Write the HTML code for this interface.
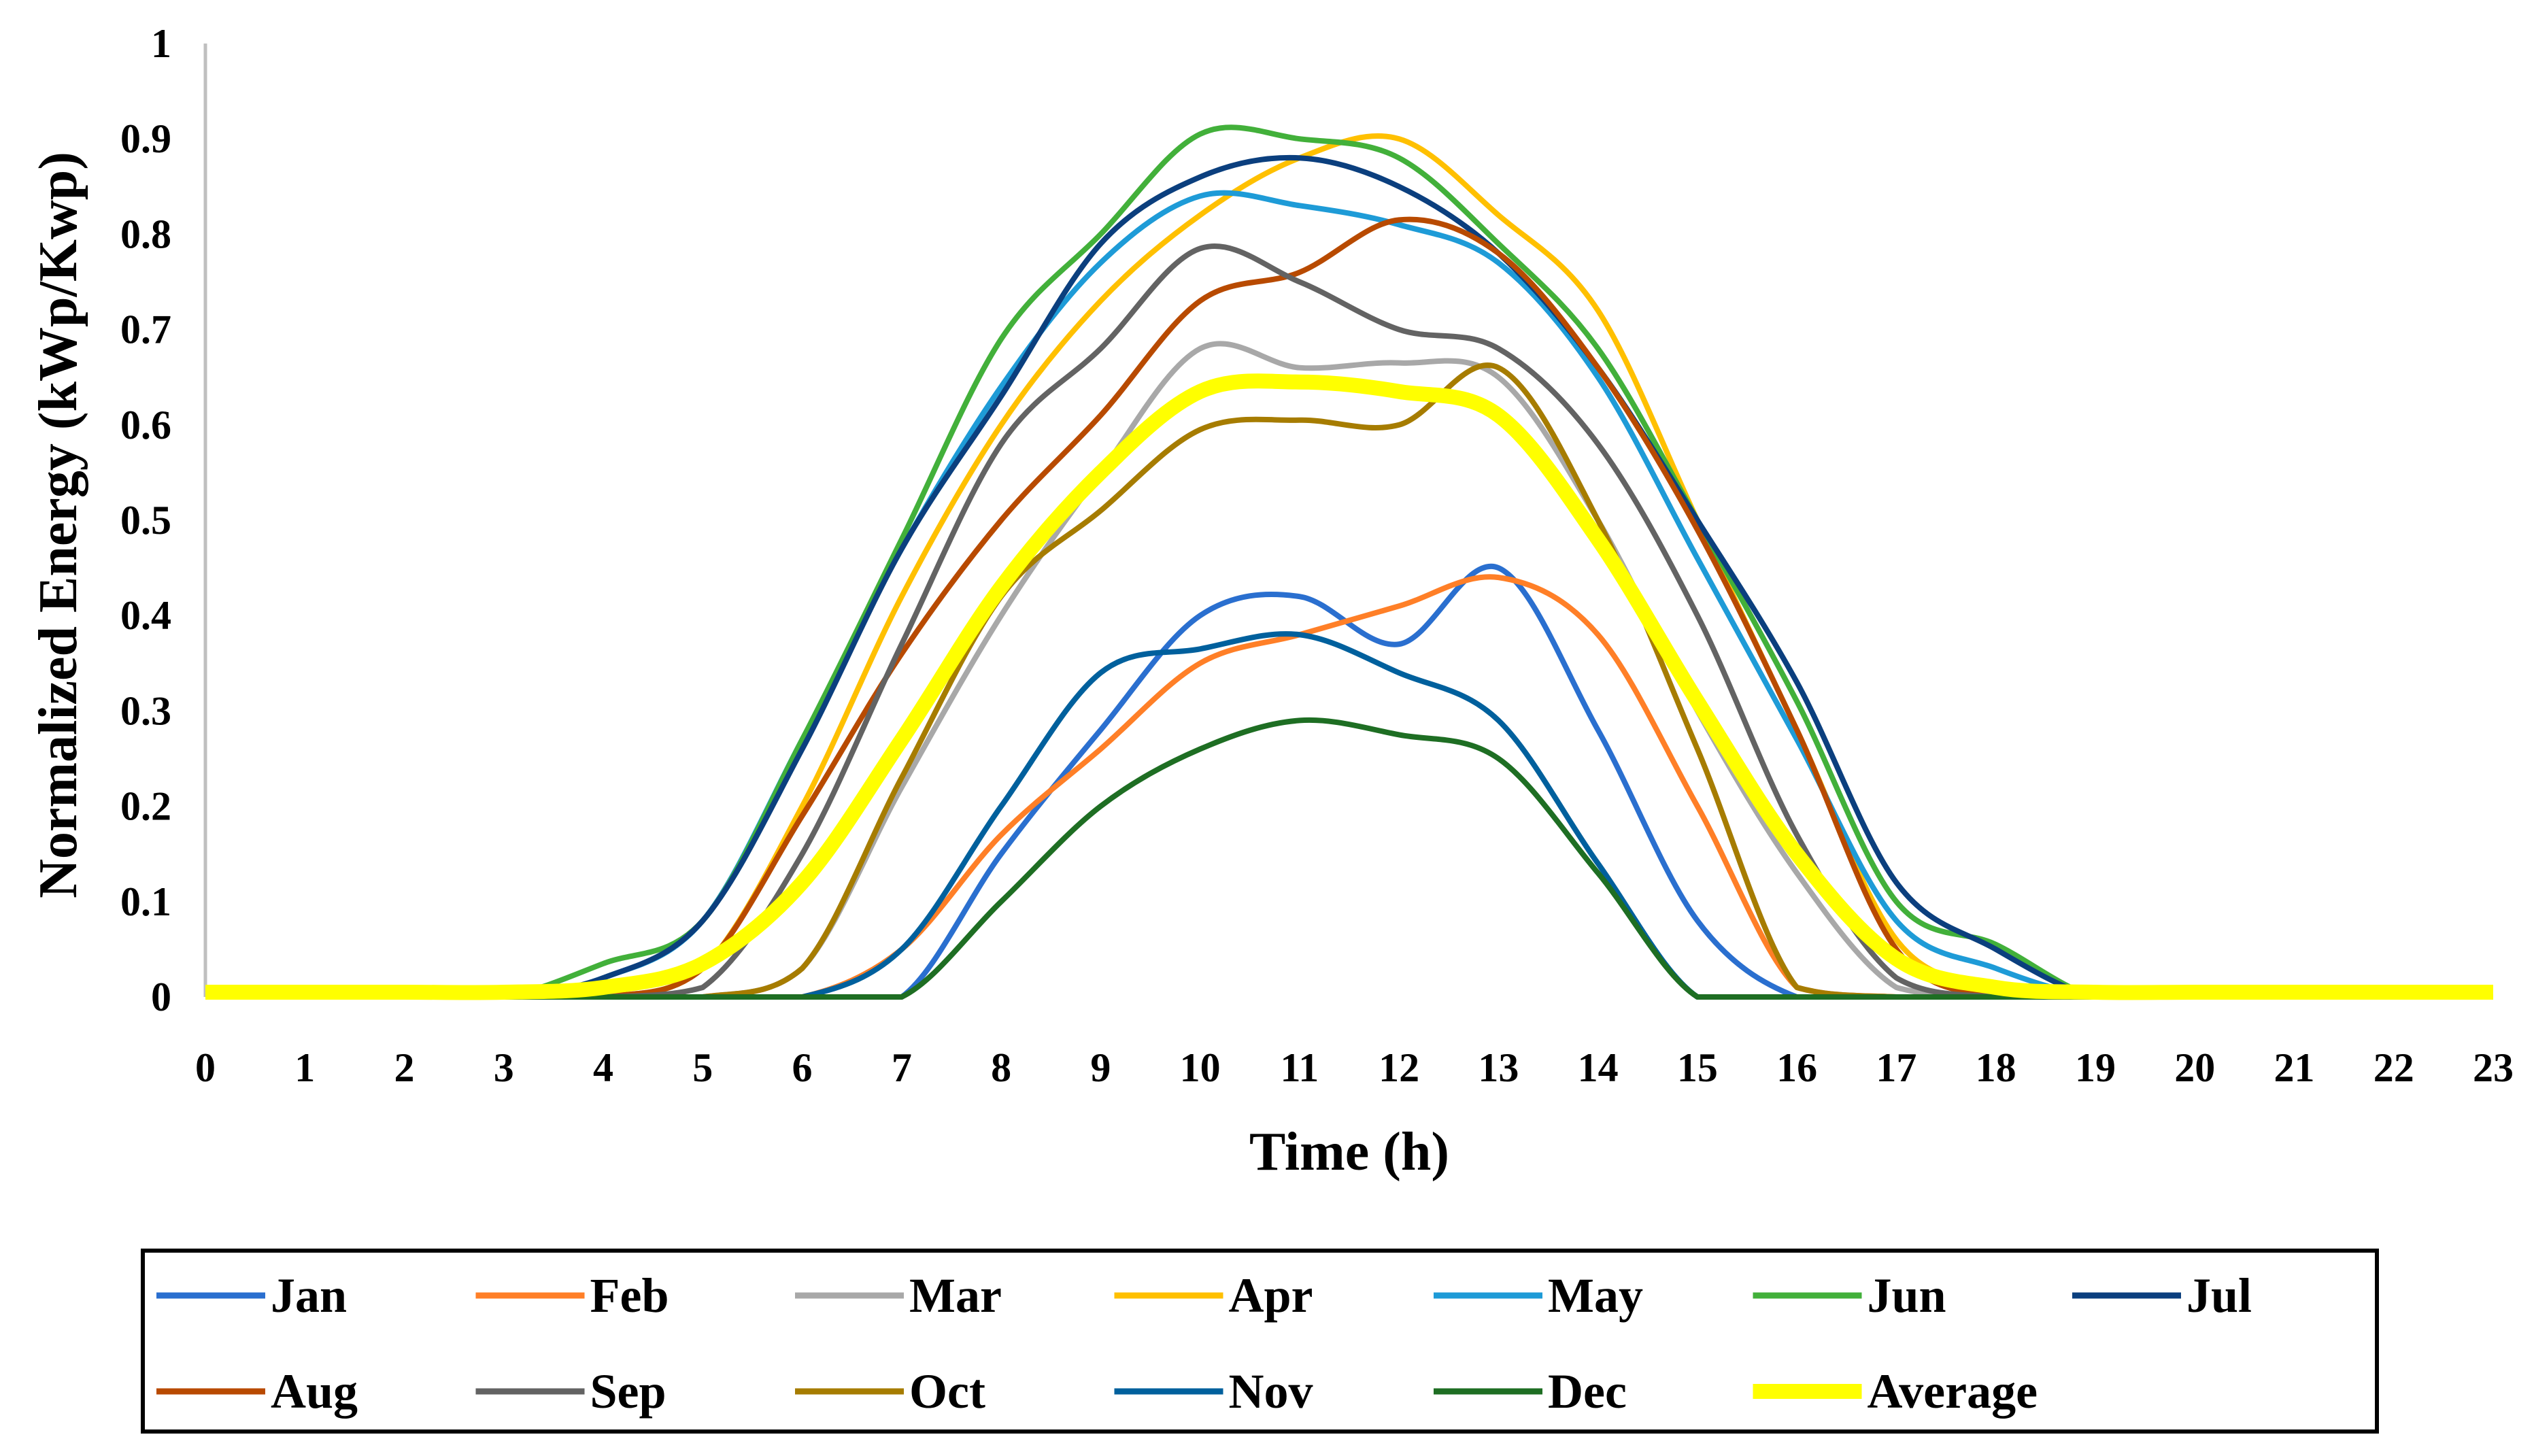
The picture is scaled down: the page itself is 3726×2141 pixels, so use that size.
<!DOCTYPE html>
<html><head><meta charset="utf-8"><style>
html,body{margin:0;padding:0;background:#fff;}
svg{display:block;font-family:"Liberation Serif",serif;font-weight:bold;}
</style></head><body>
<svg id="chart" width="3726" height="2141" viewBox="0 0 3726 2141" xmlns="http://www.w3.org/2000/svg">
<rect width="3726" height="2141" fill="#fff"/>
<line x1="302" y1="64" x2="302" y2="1466" stroke="#bfbfbf" stroke-width="5"/>
<g id="yticks"></g><g id="xticks"></g><g id="series"></g>
<text transform="translate(112,772) rotate(-90)" text-anchor="middle" font-size="80">Normalized Energy (kWp/Kwp)</text>
<text x="1984" y="1720" text-anchor="middle" font-size="80">Time (h)</text>
<rect x="210" y="1839" width="3285" height="266" fill="none" stroke="#000" stroke-width="6"/>
<g id="legend"></g>
</svg>
<script>
const hours=[0,1,2,3,4,5,6,7,8,9,10,11,12,13,14,15,16,17,18,19,20,21,22,23];
const yTicks=[0,0.1,0.2,0.3,0.4,0.5,0.6,0.7,0.8,0.9,1];
const yTickLabels=["0","0.1","0.2","0.3","0.4","0.5","0.6","0.7","0.8","0.9","1"];
const seriesNames=["Jan","Feb","Mar","Apr","May","Jun","Jul","Aug","Sep","Oct","Nov","Dec","Average"];
const jan=[0,0,0,0,0,0,0,0,0.15,0.28,0.40,0.42,0.37,0.45,0.28,0.08,0,0,0,0,0,0,0,0];
const feb=[0,0,0,0,0,0,0,0.05,0.17,0.26,0.35,0.38,0.41,0.44,0.38,0.20,0.01,0,0,0,0,0,0,0];
const mar=[0,0,0,0,0,0,0.03,0.22,0.40,0.55,0.68,0.66,0.665,0.65,0.50,0.30,0.13,0.01,0,0,0,0,0,0];
const apr=[0,0,0,0,0,0.03,0.20,0.42,0.60,0.73,0.82,0.88,0.90,0.82,0.72,0.50,0.28,0.06,0.01,0,0,0,0,0];
const may=[0,0,0,0,0.02,0.08,0.27,0.47,0.64,0.77,0.84,0.83,0.81,0.77,0.65,0.46,0.27,0.08,0.03,0,0,0,0,0];
const jun=[0,0,0,0,0.035,0.08,0.27,0.48,0.69,0.80,0.905,0.90,0.88,0.79,0.68,0.50,0.31,0.10,0.055,0,0,0,0,0];
const jul=[0,0,0,0,0.02,0.08,0.26,0.47,0.63,0.79,0.86,0.88,0.85,0.78,0.66,0.50,0.33,0.12,0.05,0,0,0,0,0];
const aug=[0,0,0,0,0,0.03,0.19,0.36,0.50,0.61,0.73,0.76,0.815,0.78,0.66,0.49,0.28,0.05,0,0,0,0,0,0];
const sep=[0,0,0,0,0,0.01,0.15,0.37,0.58,0.68,0.785,0.75,0.70,0.68,0.58,0.40,0.17,0.02,0,0,0,0,0,0];
const oct=[0,0,0,0,0,0,0.03,0.23,0.42,0.51,0.595,0.605,0.60,0.66,0.50,0.26,0.01,0,0,0,0,0,0,0];
const nov=[0,0,0,0,0,0,0,0.05,0.20,0.34,0.365,0.38,0.34,0.29,0.14,0,0,0,0,0,0,0,0,0];
const dec=[0,0,0,0,0,0,0,0,0.10,0.20,0.26,0.29,0.275,0.25,0.13,0,0,0,0,0,0,0,0,0];
const avg=[0.005,0.005,0.005,0.005,0.01,0.035,0.12,0.27,0.43,0.55,0.635,0.645,0.635,0.61,0.48,0.31,0.15,0.04,0.01,0.005,0.005,0.005,0.005,0.005];
const seriesValues=[jan,feb,mar,apr,may,jun,jul,aug,sep,oct,nov,dec,avg];
const colors=["#2A6FCF","#FF7F27","#A8A8A8","#FFC000","#1E9BD7","#42B03A","#0B3F7E","#B84A00","#636363","#A67C00","#00609D","#1E6E23","#FFFF00"];
const NS="http://www.w3.org/2000/svg";
const X=h=>302+h*146.26, Y=v=>1466-v*1402;
function mk(tag,attrs,parent){const e=document.createElementNS(NS,tag);for(const k in attrs)e.setAttribute(k,attrs[k]);parent.appendChild(e);return e;}
const yt=document.getElementById('yticks');
yTicks.forEach((v,i)=>{const t=mk('text',{x:252,y:Y(v)+20,'text-anchor':'end','font-size':60},yt);t.textContent=yTickLabels[i];

});
const xt=document.getElementById('xticks');
hours.forEach(h=>{const t=mk('text',{x:X(h),y:1590,'text-anchor':'middle','font-size':60},xt);t.textContent=String(h);

});
function path(vals){const p=vals.map((v,i)=>[X(hours[i]),Y(v)]);let d=`M${p[0][0]},${p[0][1]}`;
for(let i=0;i<p.length-1;i++){const p0=p[i-1]||p[i],p1=p[i],p2=p[i+1],p3=p[i+2]||p2;
const c1=[p1[0]+(p2[0]-p0[0])/6,Math.min(Y(0),p1[1]+(p2[1]-p0[1])/6)],c2=[p2[0]-(p3[0]-p1[0])/6,Math.min(Y(0),p2[1]-(p3[1]-p1[1])/6)];
d+=` C${c1[0]},${c1[1]} ${c2[0]},${c2[1]} ${p2[0]},${p2[1]}`;}return d;}
const sg=document.getElementById('series');
seriesValues.forEach((vals,i)=>{const isAvg=i===12;const e=mk('path',{d:path(vals),fill:'none',stroke:colors[i],'stroke-width':isAvg?22:8,'stroke-linejoin':'round'},sg);

});
const lg=document.getElementById('legend');
seriesNames.forEach((n,i)=>{const col=i%7,row=Math.floor(i/7);const x=230+col*469.5,y=row?2046:1905;
const isAvg=i===12;
const g=mk('g',{},lg);


mk('line',{x1:x,y1:y,x2:x+160,y2:y,stroke:colors[i],'stroke-width':isAvg?22:9},g);
const t=mk('text',{x:x+168,y:y+24,'font-size':72},g);t.textContent=n;});
</script>
</body></html>
